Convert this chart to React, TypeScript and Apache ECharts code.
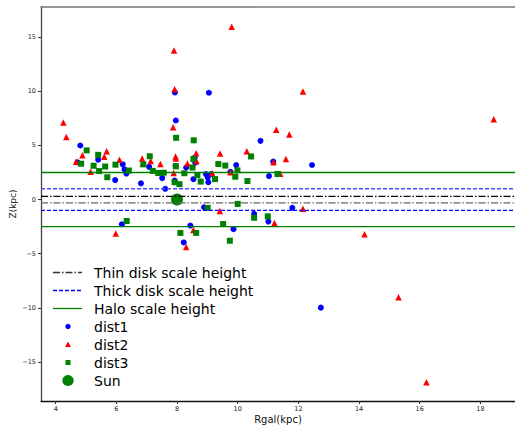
import React, { useEffect, useRef } from "react";
import * as echarts from "echarts";

// Galactocentric radius R and height Z (kpc) for the three distance samples
const dist1: number[][] = [
  [4.81, 4.99], [4.72, 3.44], [5.40, 3.68], [5.96, 1.80], [6.21, 3.25], [6.27, 2.78],
  [6.33, 2.40], [6.18, -2.28], [6.81, 1.50], [7.08, 3.02], [7.51, 1.98], [7.61, 0.99],
  [7.92, 1.75], [7.93, 9.89], [7.96, 7.30], [7.95, 3.12], [8.22, -3.96], [8.30, 2.96],
  [8.44, -2.40], [8.54, 1.88], [8.58, 3.87], [8.60, 3.40], [8.89, -0.71], [8.95, 2.35],
  [9.01, 2.03], [9.03, 1.60], [9.12, 2.35], [9.05, 9.86], [9.76, 2.56], [9.86, -2.73],
  [9.95, 3.18], [10.54, -1.32], [10.75, 5.42], [11.01, -2.03], [11.03, 2.17], [11.17, 3.50],
  [11.80, -0.76], [12.45, 3.19], [12.74, -9.98],
];

const dist2: number[][] = [
  [4.25, 7.11], [4.35, 5.78], [4.67, 3.49], [4.88, 4.08], [5.15, 2.57], [5.60, 3.96],
  [5.68, 4.46], [5.98, -3.13], [6.10, 3.68], [6.85, 3.80], [6.87, 3.33], [7.13, 3.56],
  [7.45, 3.28], [7.87, 6.67], [7.90, 13.77], [7.92, 10.19], [7.95, 3.97], [7.96, 3.80],
  [7.89, 2.45], [8.30, -4.38], [8.34, 3.33], [8.54, -2.80], [8.63, 4.28], [8.64, 3.55],
  [9.16, 2.42], [9.41, -1.06], [9.42, 4.25], [9.76, 2.52], [9.80, 15.95], [10.30, 4.46],
  [11.18, 3.45], [11.21, -2.16], [11.27, 6.44], [11.40, 2.39], [11.59, 3.75], [11.70, 6.01],
  [12.15, 9.98], [12.15, -0.86], [14.18, -3.20], [15.30, -9.02], [16.22, -16.88], [18.44, 7.42],
];

const dist3: number[][] = [
  [4.84, 3.31], [5.02, 4.54], [5.25, 3.12], [5.40, 4.13], [5.43, 2.63], [5.63, 3.05],
  [5.70, 2.06], [5.97, 3.22], [6.34, -1.98], [6.41, 2.68], [6.89, 3.25], [7.10, 4.00],
  [7.20, 2.65], [7.38, 2.45], [7.56, 2.48], [7.92, 1.60], [7.97, 5.70], [7.96, 3.07],
  [8.08, 1.42], [8.11, -3.08], [8.24, 2.43], [8.51, 2.96], [8.54, 3.75], [8.55, 5.47],
  [8.63, -3.08], [8.67, 2.26], [8.78, 1.66], [9.01, -0.77], [9.25, 1.89], [9.36, 3.28],
  [9.52, -2.26], [9.59, 3.14], [9.74, -3.80], [9.92, 2.11], [9.99, 2.70], [10.00, -0.40],
  [10.32, 1.71], [10.44, 3.98], [10.54, -1.68], [10.99, -1.55], [11.31, 2.36],
];

const sun: number[][] = [[8.0, 0.0]];

// Scale heights (kpc)
const thinDisk = 0.3;
const thickDisk = 1.0;
const halo = 2.5;

const xTicks = [4, 6, 8, 10, 12, 14, 16, 18];
const yTicks = [-15, -10, -5, 0, 5, 10, 15];

const X_MIN = 3.515;
const X_MAX = 19.14;
const Y_MIN = -18.6;
const Y_MAX = 17.78;

const FONT = "DejaVu Sans";

const legendNames = [
  "Thin disk scale height",
  "Thick disk scale height",
  "Halo scale height",
  "dist1",
  "dist2",
  "dist3",
  "Sun",
];

function hline(name: string, y: number, color: string, type: any, width = 1.3) {
  return {
    name,
    type: "line",
    silent: true,
    symbol: "none",
    data: [[X_MIN, y], [X_MAX, y]],
    lineStyle: { color, width, type },
  };
}

function buildLegend() {
  const rowY = (i: number) => 272.5 + 18 * i;
  const x1 = 53;
  const x2 = 82;
  const mx = 68;
  const els: any[] = [];
  els.push({
    type: "line",
    shape: { x1, y1: rowY(0), x2, y2: rowY(0) },
    style: { stroke: "#333", lineWidth: 1.3, lineDash: [7, 2, 1.5, 2] },
  });
  els.push({
    type: "line",
    shape: { x1, y1: rowY(1), x2, y2: rowY(1) },
    style: { stroke: "#0000ff", lineWidth: 1.3, lineDash: [4, 2] },
  });
  els.push({
    type: "line",
    shape: { x1, y1: rowY(2), x2, y2: rowY(2) },
    style: { stroke: "#008000", lineWidth: 1.3 },
  });
  els.push({ type: "circle", shape: { cx: mx, cy: rowY(3), r: 2.7 }, style: { fill: "#0000ff" } });
  const ty = rowY(4);
  els.push({
    type: "polygon",
    shape: { points: [[mx, ty - 3], [mx + 3, ty + 2.5], [mx - 3, ty + 2.5]] },
    style: { fill: "#ff0000" },
  });
  els.push({ type: "rect", shape: { x: mx - 2.5, y: rowY(5) - 2.5, width: 5, height: 5 }, style: { fill: "#008000" } });
  els.push({ type: "circle", shape: { cx: mx, cy: rowY(6), r: 5.6 }, style: { fill: "#008000" } });
  legendNames.forEach((t, i) => {
    els.push({
      type: "text",
      x: 94,
      y: rowY(i),
      style: {
        text: t,
        fill: "#000",
        font: `14px "${FONT}"`,
        verticalAlign: "middle",
        align: "left",
      },
    });
  });
  return els;
}

export default function App() {
  const ref = useRef<HTMLDivElement>(null);

  useEffect(() => {
    if (!ref.current) return;
    const chart = echarts.init(ref.current, undefined, { renderer: "svg" });
    chart.setOption({
      animation: false,
      backgroundColor: "#ffffff",
      textStyle: { fontFamily: FONT },
      grid: {
        left: 41,
        top: 7,
        right: 0,
        bottom: 24,
        containLabel: false,
        outerBoundsMode: "none",
      },
      xAxis: [
        {
          type: "value",
          min: X_MIN,
          max: X_MAX,
          name: "Rgal(kpc)",
          nameLocation: "middle",
          nameGap: 13,
          nameMoveOverlap: false,
          nameTextStyle: { fontSize: 10, lineHeight: 11, color: "#111", fontFamily: FONT },
          splitLine: { show: false },
          axisLine: { show: true, onZero: false, lineStyle: { color: "#111", width: 1.3 } },
          axisTick: { show: true, length: 3, customValues: xTicks, lineStyle: { color: "#333" } },
          axisLabel: {
            customValues: xTicks,
            fontSize: 6.5,
            color: "#222",
            margin: 4.5,
            fontFamily: FONT,
          },
        },
        {
          type: "value",
          position: "top",
          min: X_MIN,
          max: X_MAX,
          splitLine: { show: false },
          axisLine: { show: true, onZero: false, lineStyle: { color: "#777", width: 1.5 } },
          axisTick: { show: false },
          axisLabel: { show: false },
        },
      ],
      yAxis: {
        type: "value",
        min: Y_MIN,
        max: Y_MAX,
        name: "Z(kpc)",
        nameLocation: "middle",
        nameGap: 24,
        nameMoveOverlap: false,
        nameTextStyle: { fontSize: 9, color: "#222", fontFamily: FONT },
        splitLine: { show: false },
        axisLine: { show: true, onZero: false, lineStyle: { color: "#444", width: 1.3 } },
        axisTick: { show: true, length: 3, customValues: yTicks, lineStyle: { color: "#333" } },
        axisLabel: {
          customValues: yTicks,
          fontSize: 6.5,
          color: "#222",
          margin: 5,
          fontFamily: FONT,
          formatter: (v: number) => String(v).replace("-", "\u2212"),
        },
      },
      series: [
        hline("Thin disk scale height", thinDisk, "#000000", [7, 2, 1.5, 2]),
        hline("Thin disk lower", -thinDisk, "#666666", [7, 2, 1.5, 2]),
        hline("Thick disk scale height", thickDisk, "#4a4aff", [4, 2]),
        hline("Thick disk lower", -thickDisk, "#0000ff", [4, 2]),
        hline("Halo scale height", halo, "#008000", "solid"),
        hline("Halo lower", -halo, "#008000", "solid"),
        {
          name: "dist1",
          type: "scatter",
          data: dist1,
          symbol: "circle",
          symbolSize: 6,
          itemStyle: { color: "#0000ff", opacity: 1 },
        },
        {
          name: "dist2",
          type: "scatter",
          data: dist2,
          symbol: "triangle",
          symbolSize: 6.5,
          itemStyle: { color: "#ff0000", opacity: 1 },
        },
        {
          name: "dist3",
          type: "scatter",
          data: dist3,
          symbol: "rect",
          symbolSize: 6,
          itemStyle: { color: "#008000", opacity: 1 },
        },
        {
          name: "Sun",
          type: "scatter",
          data: sun,
          symbol: "circle",
          symbolSize: 12,
          itemStyle: { color: "#008000", opacity: 1 },
        },
      ],
      graphic: buildLegend(),
    });
    return () => chart.dispose();
  }, []);

  return (
    <div
      ref={ref}
      style={{ position: "fixed", left: 0, top: 0, width: 515, height: 425, background: "#fff" }}
    />
  );
}
